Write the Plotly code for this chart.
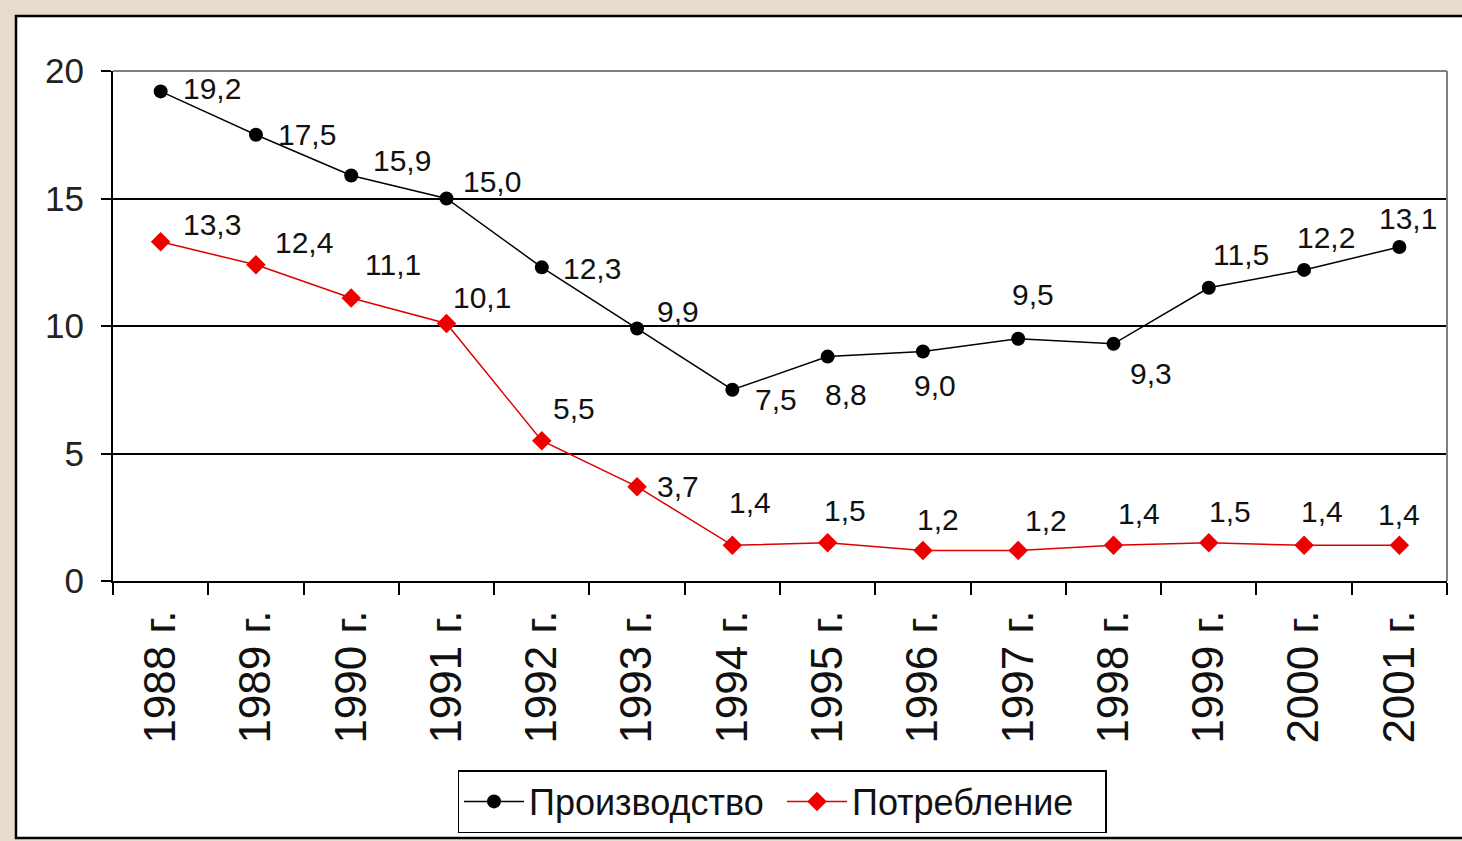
import plotly.graph_objects as go

years = ["1988 г.", "1989 г.", "1990 г.", "1991 г.", "1992 г.", "1993 г.", "1994 г.",
         "1995 г.", "1996 г.", "1997 г.", "1998 г.", "1999 г.", "2000 г.", "2001 г."]
production = [19.2, 17.5, 15.9, 15.0, 12.3, 9.9, 7.5, 8.8, 9.0, 9.5, 9.3, 11.5, 12.2, 13.1]
consumption = [13.3, 12.4, 11.1, 10.1, 5.5, 3.7, 1.4, 1.5, 1.2, 1.2, 1.4, 1.5, 1.4, 1.4]
y_ticks = [0, 5, 10, 15, 20]

# label offsets (pixels, from point centre to label centre) — styling only
prod_dx = [51, 51, 51, 45, 50, 41, 44, 18, 12, 15, 37, 32, 22, 9]
prod_dy = [-3, 0, -15, -17, 1, -17, 10, 38, 34, -44, 30, -33, -32, -28]
cons_dx = [51, 48, 42, 35, 32, 41, 18, 17, 15, 28, 25, 21, 18, 0]
cons_dy = [-17, -22, -33, -26, -32, 0, -43, -32, -31, -30, -32, -31, -34, -31]


def fmt(v):
    return f"{v:.1f}".replace(".", ",")


FONT = "Liberation Sans, Arial, sans-serif"

fig = go.Figure()
fig.add_trace(go.Scatter(
    x=years, y=production, name="Производство", mode="lines+markers",
    line=dict(color="black", width=1.5),
    marker=dict(symbol="circle", size=14, color="black"),
    cliponaxis=False,
))
fig.add_trace(go.Scatter(
    x=years, y=consumption, name="Потребление", mode="lines+markers",
    line=dict(color="#dd0000", width=1.5),
    marker=dict(symbol="diamond", size=15, color="#ee0000"),
    cliponaxis=False,
))

annotations = []
for series, dxs, dys in ((production, prod_dx, prod_dy), (consumption, cons_dx, cons_dy)):
    for x, v, dx, dy in zip(years, series, dxs, dys):
        annotations.append(dict(
            x=x, y=v, xref="x", yref="y", text=fmt(v), showarrow=False,
            xanchor="center", yanchor="middle", xshift=dx, yshift=-dy,
            font=dict(family=FONT, size=30, color="#111111"),
        ))

L, R, T, B = 113, 15, 71, 260
W, H = 1462, 841
pw = W - L - R
ph = H - T - B


def px_x(p):
    return (p - L) / pw


def px_y(p):
    return (H - B - p) / ph


shapes = [
    # white chart box
    dict(type="rect", xref="paper", yref="paper", layer="below",
         x0=px_x(16), x1=px_x(1480), y0=px_y(838), y1=px_y(16),
         fillcolor="white", line=dict(color="black", width=2.5)),
    # plot area top & right border (gray)
    dict(type="line", xref="paper", yref="paper", x0=0, x1=1, y0=1, y1=1,
         line=dict(color="#808080", width=2)),
    dict(type="line", xref="paper", yref="paper", x0=1, x1=1, y0=0, y1=1,
         line=dict(color="#808080", width=2)),
]

fig.update_layout(
    width=W, height=H,
    margin=dict(l=L, r=R, t=T, b=B, autoexpand=False),
    paper_bgcolor="#e6dccb",
    plot_bgcolor="white",
    font=dict(family=FONT, color="#111111"),
    shapes=shapes,
    annotations=annotations,
    showlegend=True,
    legend=dict(
        orientation="h", x=px_x(782), xanchor="center", y=px_y(833), yanchor="bottom",
        bgcolor="white", bordercolor="black", borderwidth=1.5,
        font=dict(family=FONT, size=36, color="#111111"),
        itemwidth=60, itemsizing="trace", entrywidth=248,
    ),
    xaxis=dict(
        type="category", range=[-0.5, 13.5],
        tickson="boundaries", ticks="outside", ticklen=12, tickwidth=2, tickcolor="black",
        showline=True, linecolor="black", linewidth=2,
        showgrid=False, tickangle=-90, ticklabelstandoff=10,
        tickfont=dict(family=FONT, size=44, color="#111111"),
        fixedrange=True,
    ),
    yaxis=dict(
        range=[0, 20], tickvals=y_ticks,
        ticks="outside", ticklen=10, tickwidth=2, tickcolor="black",
        showline=True, linecolor="black", linewidth=2,
        showgrid=True, gridcolor="black", gridwidth=1.5,
        zeroline=False, ticklabelstandoff=10,
        tickfont=dict(family=FONT, size=35, color="#222222"),
        fixedrange=True,
    ),
)

fig.write_html(
    "out.html",
    config={"displayModeBar": False},
    post_script="document.body.style.margin='0';document.body.style.overflow='hidden';"
                "document.body.style.background='#e6dccb';",
)
